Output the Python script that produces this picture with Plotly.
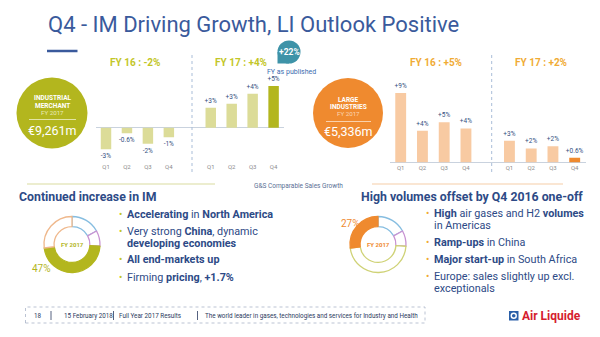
import plotly.graph_objects as go

W, H = 600, 337


def px(x):
    return x / W


def py(y):
    return 1 - y / H


# ---------------- data ----------------
quarters = ["Q1", "Q2", "Q3", "Q4"]
years = ["FY16", "FY17"]
im_values = [-2.7, -0.7, -2.0, -1.2, 2.5, 3.0, 4.25, 5.2]
im_labels = ["-3%", "-0.6%", "-2%", "-1%", "+3%", "+3%", "+4%", "+5%"]
li_values = [9.0, 4.1, 5.2, 4.4, 2.8, 1.8, 2.1, 0.6]
li_labels = ["+9%", "+4%", "+5%", "+4%", "+3%", "+2%", "+2%", "+0.6%"]
im_headers = ["FY 16 : -2%", "FY 17 : +4%"]
li_headers = ["FY 16 : +5%", "FY 17 : +2%"]
segments = ["Healthcare", "Electronics", "Industrial Merchant", "Large Industries"]
segment_share = [17, 9, 47, 27]

title = "Q4 - IM Driving Growth, LI Outlook Positive"
im_bullets = [
    "<b>Accelerating</b> in <b>North America</b>",
    "Very strong <b>China</b>, dynamic",
    "<b>developing economies</b>",
    "<b>All end-markets up</b>",
    "Firming <b>pricing</b>, <b>+1.7%</b>",
]
li_bullets = [
    "<b>High</b> air gases and H2 <b>volumes</b>",
    "in Americas",
    "<b>Ramp-ups</b> in China",
    "<b>Major start-up</b> in South Africa",
    "Europe: sales slightly up excl.",
    "exceptionals",
]
footer = ["18", "15 February 2018", "Full Year 2017 Results",
          "The world leader in gases, technologies and services for Industry and Health"]

# ---------------- styles ----------------
FONT = "Roboto"
BLUE = "#2d4a86"
TITLE_BLUE = "#3a5a9c"
OLIVE = "#b3b61e"
OLIVE_LIGHT = "#dcdc98"
OLIVE_LINE = "#cfd276"
ORANGE = "#ef8a2f"
ORANGE_LIGHT = "#f8caa2"
ORANGE_LINE = "#efb88c"
SEG_BLUE = "#86bde0"
SEG_PURPLE = "#c893d2"

keys = [f"{y} {q}" for y in years for q in quarters]
cat_array = keys[:4] + ["gap"] + keys[4:]
tick_text = quarters * 2

fig = go.Figure()

fig.add_trace(go.Bar(
    x=keys, y=im_values, text=im_labels, textposition="outside",
    marker=dict(color=[OLIVE_LIGHT] * 7 + [OLIVE], line=dict(width=0)),
    width=0.5, textfont=dict(size=6.5, color="#34507f", family=FONT),
    cliponaxis=False, constraintext="none", xaxis="x", yaxis="y",
    hoverinfo="skip", showlegend=False))

fig.add_trace(go.Bar(
    x=keys, y=li_values, text=li_labels, textposition="outside",
    marker=dict(color=[ORANGE_LIGHT] * 7 + [ORANGE], line=dict(width=0)),
    width=0.5, textfont=dict(size=6.5, color="#34507f", family=FONT),
    cliponaxis=False, constraintext="none", xaxis="x2", yaxis="y2",
    hoverinfo="skip", showlegend=False))


def donut(cx, cy, r, colors, fills):
    return go.Pie(
        labels=segments, values=segment_share, sort=False, direction="clockwise",
        rotation=0, hole=0.64, textinfo="none", hoverinfo="skip", showlegend=False,
        marker=dict(colors=fills, line=dict(color=colors, width=1.3)),
        domain=dict(x=[px(cx - r), px(cx + r)], y=[py(cy + r), py(cy - r)]))


fig.add_trace(donut(72, 244.5, 28,
                    [SEG_BLUE, SEG_PURPLE, OLIVE, ORANGE_LINE],
                    ["white", "white", OLIVE, "white"]))
fig.add_trace(donut(378, 244.5, 28,
                    [SEG_BLUE, SEG_PURPLE, OLIVE_LINE, ORANGE],
                    ["white", "white", "white", ORANGE]))

# ---------------- axes ----------------
im_u = 20.95
im_left = 106 - 0.5 * im_u
li_u = 21.75
li_left = 400.7 - 0.5 * li_u
ax_common = dict(type="category", categoryorder="array", categoryarray=cat_array,
                 range=[-0.5, 8.5], tickvals=keys, ticktext=tick_text,
                 showgrid=False, zeroline=False, showline=False, ticks="",
                 tickfont=dict(size=6, color="#8c8c8c", family=FONT), fixedrange=True)

im_scale, im_base, top_px, im_bot = 8.0, 127.7, 75, 162
li_scale, li_base, li_bot = 7.7, 162.3, 163

fig.update_layout(
    width=W, height=H, margin=dict(l=0, r=0, t=0, b=0),
    paper_bgcolor="white", plot_bgcolor="rgba(0,0,0,0)",
    font=dict(family=FONT, color=BLUE),
    xaxis=dict(domain=[px(im_left), px(im_left + 9 * im_u)], anchor="y", **ax_common),
    yaxis=dict(domain=[py(im_bot), py(top_px)], anchor="x",
               range=[-(im_bot - im_base) / im_scale, (im_base - top_px) / im_scale],
               showgrid=False, showticklabels=False, zeroline=True,
               zerolinecolor="#c9d2de", zerolinewidth=1, fixedrange=True),
    xaxis2=dict(domain=[px(li_left), px(li_left + 9 * li_u)], anchor="y2", **ax_common),
    yaxis2=dict(domain=[py(li_bot), py(top_px)], anchor="x2",
                range=[-(li_bot - li_base) / li_scale, (li_base - top_px) / li_scale],
                showgrid=False, showticklabels=False, zeroline=True,
                zerolinecolor="#c9d2de", zerolinewidth=1, fixedrange=True),
    bargap=0.5,
)

shapes = []
ann = []


def text(x, y, s, size, color=BLUE, xanchor="center", bold=False, **kw):
    ann.append(dict(x=px(x), y=py(y), xref="paper", yref="paper", text=f"<b>{s}</b>" if bold else s,
                    showarrow=False, xanchor=xanchor, yanchor="middle",
                    font=dict(size=size, color=color, family=kw.pop("family", FONT)), **kw))


def line(x0, y0, x1, y1, color, width=1, dash="solid"):
    shapes.append(dict(type="line", xref="paper", yref="paper", x0=px(x0), y0=py(y0),
                       x1=px(x1), y1=py(y1), line=dict(color=color, width=width, dash=dash)))


def circle(cx, cy, r, color):
    shapes.append(dict(type="circle", xref="paper", yref="paper", x0=px(cx - r), x1=px(cx + r),
                       y0=py(cy + r), y1=py(cy - r), fillcolor=color, line=dict(width=0)))


# title
text(46, 24, title, 22, TITLE_BLUE, xanchor="left")
line(47, 51, 77.5, 51, TITLE_BLUE, 2.5)

# FY headers
text(135, 62, im_headers[0], 10, "#c3c628", bold=True)
text(241, 62, im_headers[1], 10, "#c3c628", bold=True)
text(436, 62, li_headers[0], 10, "#f0ab35", bold=True)
text(541, 62, li_headers[1], 10, "#f0ab35", bold=True)

# separators
line(192, 55, 192, 173, "#a9bdd8", 1, "dot")
line(491.7, 55, 491.7, 173, "#a9bdd8", 1, "dot")

# +22% bubble
circle(289, 52, 11.5, "#3e93a8")
shapes.append(dict(type="rect", xref="paper", yref="paper", x0=px(277.5), x1=px(289),
                   y0=py(63.5), y1=py(52), fillcolor="#3e93a8", line=dict(width=0)))
text(289, 52, "+22%", 8.5, "white", bold=True)
text(291, 72, "FY as published", 7, "#3b6db0")

# segment circles
circle(52, 113, 35.5, OLIVE)
text(52.5, 98.5, "INDUSTRIAL", 6.5, "white", bold=True)
text(52.5, 105.5, "MERCHANT", 6.5, "white", bold=True)
text(52.5, 112.5, "FY 2017", 6.2, "#e9eab8")
line(29, 119.5, 76, 119.5, "#eef0c8", 0.8)
text(52.5, 130, "€9,261m", 12.5, "white")

circle(348, 113, 35, ORANGE)
text(348, 100.2, "LARGE", 6.5, "white", bold=True)
text(348, 107.2, "INDUSTRIES", 6.5, "white", bold=True)
text(348, 114.2, "FY 2017", 6.2, "#fbd6b4")
line(326, 121.5, 371, 121.5, "#fde3cc", 0.8)
text(348, 131.3, "€5,336m", 12.5, "white")

# subtitle + separator lines
text(298, 186, "G&S Comparable Sales Growth", 6.5, "#5b6f95")
line(27, 184, 215, 184, "#d9dba0", 1.2)
line(372, 184, 563, 184, "#f6cda8", 1.2)

# headings
text(17, 197, "Continued increase in IM", 12.3, BLUE, xanchor="left", bold=True)
text(359, 197, "High volumes offset by Q4 2016 one-off", 12.3, BLUE, xanchor="left", bold=True)

# bullets
im_y = [214.3, 231, 243.3, 259.8, 277]
im_dot = [True, True, False, True, True]
for s, y, d in zip(im_bullets, im_y, im_dot):
    if d:
        text(120, y, "•", 10, "#c3c628")
    text(124.5, y, s, 10.8, BLUE, xanchor="left")

li_y = [213.8, 226, 242.5, 259.5, 276.5, 288.7]
li_dot = [True, False, True, True, True, False]
for s, y, d in zip(li_bullets, li_y, li_dot):
    if d:
        text(427.5, y, "•", 10, "#f0ab35")
    text(431.5, y, s, 10.8, BLUE, xanchor="left")

# donut labels
text(72, 244.5, "FY 2017", 6, OLIVE, bold=True)
text(378, 244.5, "FY 2017", 6, ORANGE, bold=True)
text(41.5, 268.5, f"{segment_share[2]}%", 10, OLIVE)
text(350, 223, f"{segment_share[3]}%", 10, ORANGE)

# footer
FC = "#2b3a60"
shapes.append(dict(type="rect", xref="paper", yref="paper", x0=px(25.5), x1=px(425),
                   y0=py(323), y1=py(307), line=dict(color="#a9b4c8", width=0.8, dash="dot")))
text(38, 315.5, footer[0], 6.3, FC)
line(51, 311, 51, 320, FC, 0.8)
text(61.5, 315.5, footer[1], 6.3, FC, xanchor="left")
line(113.5, 311, 113.5, 320, FC, 0.8)
text(117, 315.5, footer[2], 6.3, FC, xanchor="left")
line(197.5, 311, 197.5, 320, FC, 0.8)
text(203, 315.5, footer[3], 6.3, FC, xanchor="left")

# logo
shapes.append(dict(type="rect", xref="paper", yref="paper", x0=px(509), x1=px(518.5),
                   y0=py(320.5), y1=py(311), fillcolor="#2a5fa8", line=dict(width=0)))
circle(513.75, 315.75, 3.2, "white")
circle(513.75, 315.75, 1.8, "#2a5fa8")
text(520, 316, "Air Liquide", 12, "#d5202e", xanchor="left", bold=True)

fig.update_layout(shapes=shapes, annotations=ann)
fig.write_html("out.html")
